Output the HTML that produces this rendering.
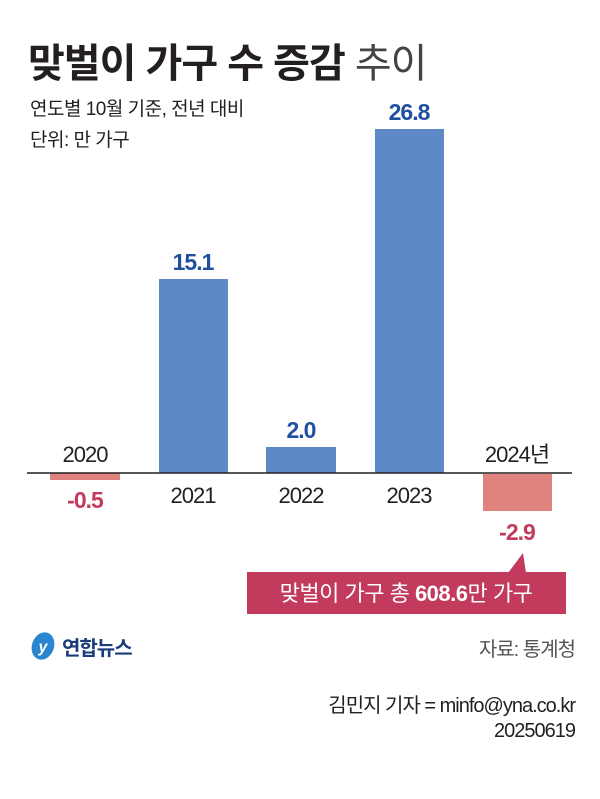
<!DOCTYPE html>
<html><head><meta charset="utf-8"><style>
body{margin:0;background:#fff;}
svg text{font-family:"Liberation Sans","Noto Sans CJK KR",sans-serif;}
</style></head><body>
<svg width="600" height="794" viewBox="0 0 600 794" xmlns="http://www.w3.org/2000/svg">
<rect width="600" height="794" fill="#fff"/>
<text x="28" y="77" font-size="40" font-weight="bold" fill="#231f20" letter-spacing="-1">맞벌이 가구 수 증감 <tspan font-weight="normal" fill="#444">추이</tspan></text>
<text x="30" y="115" font-size="19" fill="#231f20" letter-spacing="-0.5">연도별 10월 기준, 전년 대비</text>
<text x="30" y="146" font-size="19" fill="#231f20" letter-spacing="-0.5">단위: 만 가구</text>
<!-- bars -->
<rect x="50" y="473" width="70" height="7" fill="#e0827e"/>
<rect x="159" y="279" width="69" height="194" fill="#5f88c6"/>
<rect x="266" y="447" width="70" height="26" fill="#5f88c6"/>
<rect x="375" y="129" width="69" height="344" fill="#5f88c6"/>
<rect x="483" y="474" width="69" height="37" fill="#e0827e"/>
<line x1="27" y1="473" x2="572" y2="473" stroke="#231f20" stroke-width="1.5"/>
<g font-size="22" fill="#231f20" text-anchor="middle" letter-spacing="-1">
<text x="85" y="462">2020</text>
<text x="193" y="503">2021</text>
<text x="301" y="503">2022</text>
<text x="409" y="503">2023</text>
<text x="517" y="462">2024년</text>
</g>
<g font-size="23" font-weight="bold" text-anchor="middle" letter-spacing="-1">
<text x="85" y="508" fill="#c23a5c">-0.5</text>
<text x="193" y="270" fill="#1f4f9e">15.1</text>
<text x="301" y="438" fill="#1f4f9e">2.0</text>
<text x="409" y="120" fill="#1f4f9e">26.8</text>
<text x="517" y="540" fill="#c23a5c">-2.9</text>
</g>
<rect x="247" y="572" width="319" height="42" fill="#c23a5c"/>
<polygon points="508,573 526,573 523,553" fill="#c23a5c"/>
<text x="406" y="601" font-size="22" fill="#fff" text-anchor="middle" letter-spacing="-0.5">맞벌이 가구 총 <tspan font-weight="bold">608.6</tspan>만 가구</text>
<!-- logo -->
<ellipse cx="43" cy="646" rx="11" ry="14" fill="#2a86d0" transform="rotate(20 43 646)"/>
<text x="43" y="652" font-size="16" font-style="italic" font-weight="bold" fill="#fff" text-anchor="middle">y</text>
<text x="62" y="655" font-size="20" font-weight="bold" fill="#1a3c7a" letter-spacing="-1">연합뉴스</text>
<text x="575" y="656" font-size="20" fill="#555" text-anchor="end" letter-spacing="-1">자료: 통계청</text>
<text x="575" y="712" font-size="20" fill="#231f20" text-anchor="end" letter-spacing="-1">김민지 기자 = minfo@yna.co.kr</text>
<text x="575" y="737" font-size="20" fill="#231f20" text-anchor="end" letter-spacing="-1">20250619</text>
</svg>
</body></html>
